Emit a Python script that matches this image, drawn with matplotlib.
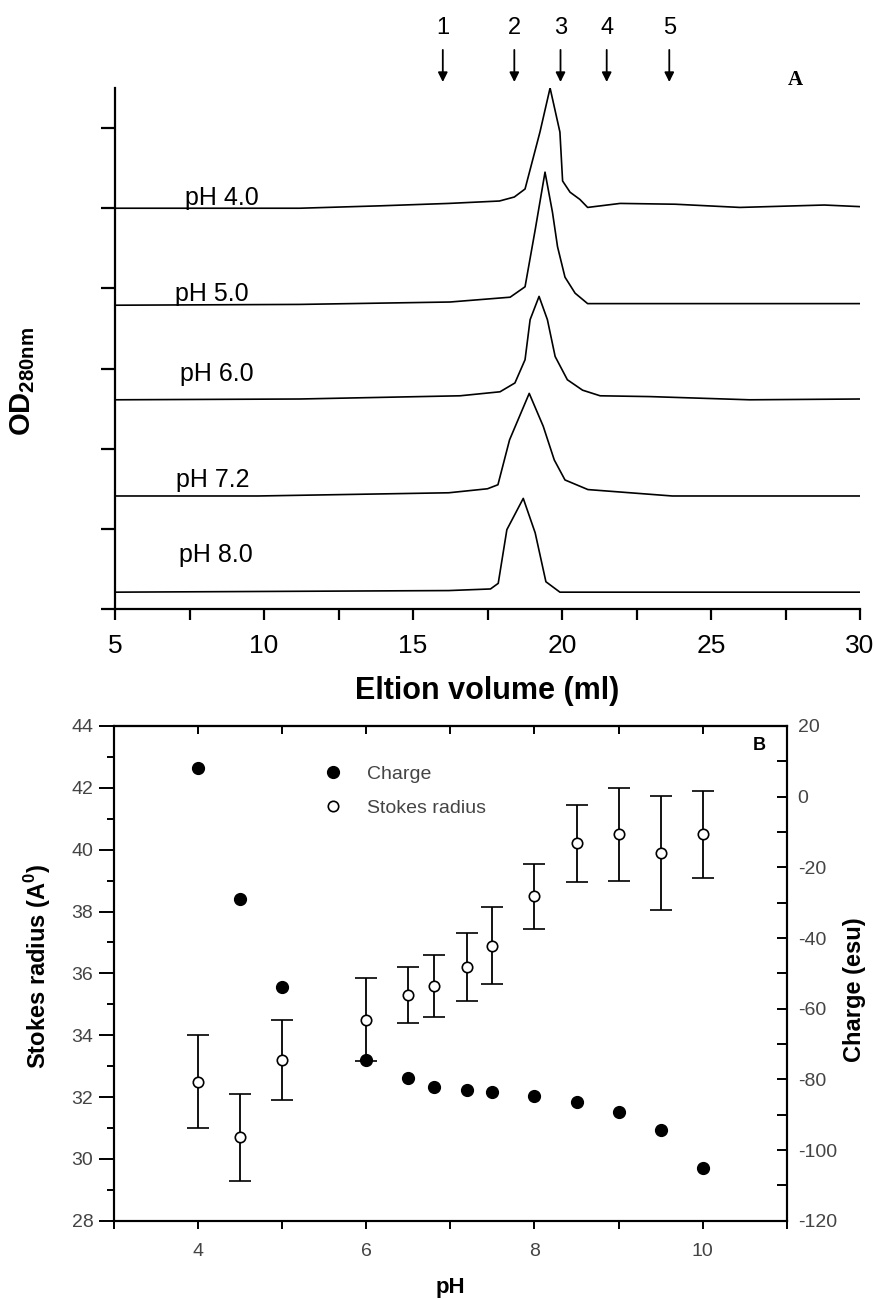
import numpy as np
import matplotlib
matplotlib.use("Agg")
import matplotlib.pyplot as plt
from matplotlib.lines import Line2D
from matplotlib.ticker import MultipleLocator, NullFormatter

plt.rcParams['font.family'] = ['Liberation Sans', 'DejaVu Sans']
plt.rcParams['mathtext.fontset'] = 'custom'
plt.rcParams['mathtext.rm'] = 'Liberation Sans'
plt.rcParams['mathtext.bf'] = 'Liberation Sans:bold'
plt.rcParams['axes.unicode_minus'] = False

# ---- panel A: elution profiles (volume in ml, OD offset above each baseline) ----
ph_labels = ['pH 4.0', 'pH 5.0', 'pH 6.0', 'pH 7.2', 'pH 8.0']
baselines = [5.0, 3.79, 2.61, 1.41, 0.21]

vol_40 = [5, 11.2, 13.9, 16.2, 17.9, 18.4, 18.76, 19.26, 19.6, 19.93, 20.02, 20.27, 20.6, 20.86, 21.95, 23.8, 25.97, 28.8, 30]
od_40 = [0, 0, 0.03, 0.06, 0.09, 0.14, 0.24, 0.95, 1.5, 0.95, 0.34, 0.2, 0.11, 0.01, 0.06, 0.05, 0.01, 0.04, 0.02]

vol_50 = [5, 11.2, 16.24, 18.26, 18.76, 19.1, 19.43, 19.68, 19.85, 20.1, 20.44, 20.86, 25, 30]
od_50 = [0, 0.01, 0.04, 0.1, 0.23, 0.94, 1.66, 1.16, 0.73, 0.35, 0.15, 0.02, 0.02, 0.02]

vol_60 = [5, 11.2, 16.58, 17.92, 18.42, 18.76, 18.93, 19.23, 19.51, 19.77, 20.18, 20.69, 21.28, 22.95, 26.3, 30]
od_60 = [0, 0.01, 0.05, 0.1, 0.21, 0.5, 1.0, 1.29, 1.0, 0.54, 0.25, 0.12, 0.05, 0.04, 0.0, 0.01]

vol_72 = [5, 9.8, 16.2, 17.5, 17.85, 18.24, 18.9, 19.37, 19.74, 20.1, 20.87, 23.7, 30]
od_72 = [0, 0, 0.04, 0.09, 0.14, 0.70, 1.28, 0.87, 0.45, 0.20, 0.08, 0, 0]

vol_80 = [5, 16.2, 17.6, 17.86, 18.15, 18.7, 19.1, 19.46, 19.93, 30]
od_80 = [0, 0.02, 0.04, 0.11, 0.78, 1.17, 0.74, 0.13, 0, 0]

curves = [(vol_40, od_40), (vol_50, od_50), (vol_60, od_60), (vol_72, od_72), (vol_80, od_80)]

# calibration standards (arrows)
marker_names = ['1', '2', '3', '4', '5']
marker_vols = [16.0, 18.4, 19.95, 21.5, 23.6]

# ---- panel B: charge and Stokes radius vs pH ----
ph = [4, 4.5, 5, 6, 6.5, 6.8, 7.2, 7.5, 8, 8.5, 9, 9.5, 10]
charge = [8.0, -29.0, -53.9, -74.5, -79.7, -82.3, -82.9, -83.6, -84.8, -86.4, -89.1, -94.4, -105.1]
stokes = [32.5, 30.7, 33.2, 34.5, 35.3, 35.6, 36.2, 36.9, 38.5, 40.2, 40.5, 39.9, 40.5]
stokes_err = [1.5, 1.4, 1.3, 1.35, 0.9, 1.0, 1.1, 1.25, 1.05, 1.25, 1.5, 1.85, 1.4]

W, H = 876, 1299
fig = plt.figure(figsize=(W / 100, H / 100), dpi=100)

# ================= panel A =================
axA = fig.add_axes([115 / W, 1 - 609 / H, 745 / W, 521 / H])
for (v, od), base in zip(curves, baselines):
    axA.plot(v, np.array(od) + base, color='black', lw=1.2)

axA.set_xlim(5, 30)
axA.set_ylim(0, 6.5)
axA.spines['top'].set_visible(False)
axA.spines['right'].set_visible(False)
for s in ['left', 'bottom']:
    axA.spines[s].set_linewidth(1.6)
axA.xaxis.set_major_locator(MultipleLocator(5))
axA.xaxis.set_minor_locator(MultipleLocator(2.5))
axA.yaxis.set_major_locator(MultipleLocator(1))
axA.yaxis.set_major_formatter(NullFormatter())
axA.tick_params(axis='x', which='both', direction='out', length=8, width=1.6,
                labelsize=19, pad=10)
axA.tick_params(axis='y', which='major', direction='out', length=10, width=1.6)

label_x = [7.35, 7.01, 7.18, 7.05, 7.15]
label_y = [5.04, 3.84, 2.84, 1.52, 0.59]
for t, lx, ly in zip(ph_labels, label_x, label_y):
    axA.text(lx, ly, t, fontsize=18, ha='left', va='baseline')

for name, mv in zip(marker_names, marker_vols):
    axA.annotate('', xy=(mv, 6.54), xytext=(mv, 7.01),
                 arrowprops=dict(arrowstyle='-|>', color='black', lw=1.3, mutation_scale=14),
                 annotation_clip=False)
    axA.text(mv, 7.25, name, fontsize=17, ha='center', va='center', clip_on=False)

axA.text(27.82, 6.6, 'A', fontsize=15, fontweight='bold', family='Liberation Serif',
         ha='center', va='center', clip_on=False)

fig.text(23 / W, 1 - 381 / H, r'$\mathbf{OD_{280nm}}$', fontsize=21, rotation=90,
         ha='center', va='center')
fig.text(487 / W, 1 - 699 / H, 'Eltion volume (ml)', fontsize=22, fontweight='bold',
         ha='center', va='baseline')

# ================= panel B =================
gray = '#444444'
axB = fig.add_axes([114.3 / W, 1 - 1220.7 / H, 672.3 / W, 494.7 / H])
ax2 = axB.twinx()

ax2.plot(ph, charge, 'o', color='black', markersize=8.5, zorder=3)
axB.errorbar(ph, stokes, yerr=stokes_err, fmt='o', color='black', mfc='white', mec='black',
             markersize=7.5, mew=1.2, elinewidth=1.3, capsize=8, capthick=1.3, zorder=4)

axB.set_xlim(3, 11)
axB.set_ylim(28, 44)
ax2.set_ylim(-120, 20)

for a in (axB, ax2):
    for s in a.spines.values():
        s.set_linewidth(1.5)

axB.xaxis.set_major_locator(MultipleLocator(2))
axB.xaxis.set_minor_locator(MultipleLocator(1))
axB.yaxis.set_major_locator(MultipleLocator(2))
axB.yaxis.set_minor_locator(MultipleLocator(1))
axB.tick_params(axis='x', which='both', direction='out', length=6, width=1.4,
                labelsize=14, labelcolor=gray, pad=10)
axB.tick_params(axis='y', which='major', direction='out', length=11, width=1.4,
                labelsize=14, labelcolor=gray, pad=4)
axB.tick_params(axis='y', which='minor', direction='out', length=5, width=1.4)

secB = axB.secondary_xaxis('top')
secB.xaxis.set_major_locator(MultipleLocator(1))
secB.tick_params(axis='x', direction='in', length=6, width=1.4, labeltop=False)
secB.spines['top'].set_linewidth(1.5)

ax2.yaxis.set_major_locator(MultipleLocator(20))
ax2.yaxis.set_minor_locator(MultipleLocator(10))
ax2.tick_params(axis='y', which='both', direction='in', length=7, width=1.4,
                labelsize=14, labelcolor=gray, pad=8)

handles = [Line2D([], [], marker='o', ls='none', color='black', markersize=8.5),
           Line2D([], [], marker='o', ls='none', mfc='white', mec='black', markersize=7.5, mew=1.2)]
ax2.legend(handles, ['Charge', 'Stokes radius'], loc='upper left',
           bbox_to_anchor=(0.311, 0.921), frameon=False, fontsize=14, labelcolor=gray,
           handlelength=1.0, handletextpad=1.25, labelspacing=0.85, borderpad=0,
           borderaxespad=0)

ax2.text(0.96, 0.96, 'B', transform=ax2.transAxes, fontsize=13, fontweight='bold',
         ha='center', va='center')

fig.text(38 / W, 1 - 966 / H, r'Stokes radius (A$^{\mathbf{0}}$)', fontsize=17,
         fontweight='bold', rotation=90, ha='center', va='center')
fig.text(855 / W, 1 - 990 / H, 'Charge (esu)', fontsize=17, fontweight='bold',
         rotation=90, ha='center', va='center')
fig.text(450 / W, 1 - 1293 / H, 'pH', fontsize=16, fontweight='bold',
         ha='center', va='baseline')

fig.savefig('out.png', dpi=100)
